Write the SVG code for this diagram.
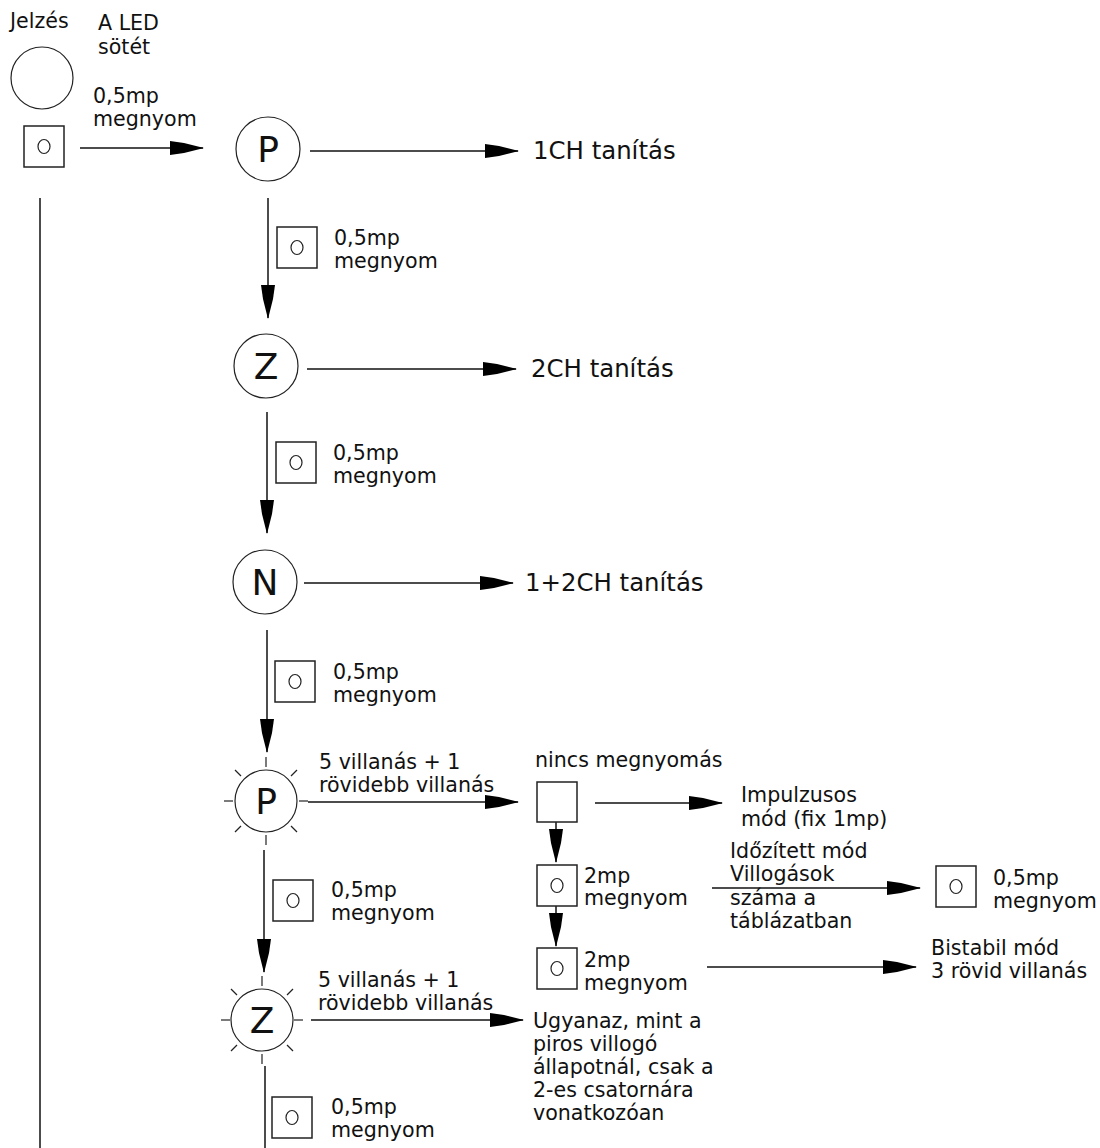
<svg xmlns="http://www.w3.org/2000/svg" width="1100" height="1148" viewBox="0 0 1100 1148">
<style>
text{font-family:"DejaVu Sans",Verdana,sans-serif;font-size:20.6px;fill:#111}
.big{font-size:24.4px}
.node{font-size:36px;text-anchor:middle}
.c{fill:#fff;stroke:#222;stroke-width:1.2}
.b{fill:#fff;stroke:#222;stroke-width:1.5}
.l{stroke:#111;stroke-width:1.5;fill:none}
.r{stroke:#222;stroke-width:1.2}
</style>
<defs>
<marker id="ah" markerUnits="userSpaceOnUse" markerWidth="36" markerHeight="16" refX="33" refY="8" orient="auto" viewBox="0 0 36 16">
<path d="M0,1 L14,3 L34,8 L14,13 L0,15 Z" fill="#000"/>
</marker>
<g id="btn"><rect x="0" y="0" width="40" height="41" class="b"/><ellipse cx="20" cy="20.5" rx="6" ry="7" class="c"/></g>
</defs>

<g id="legend">
<text x="10" y="28">Jelzés</text>
<text x="98" y="30">A LED</text>
<text x="98" y="54">sötét</text>
<circle cx="42" cy="78" r="31" class="c"/>
<use href="#btn" x="24" y="126"/>
<text x="93" y="103">0,5mp</text>
<text x="93" y="126">megnyom</text>
</g>

<g id="connectors">
<line x1="80" y1="148" x2="203" y2="148" class="l" marker-end="url(#ah)"/>
<line x1="40" y1="198" x2="40" y2="1148" class="l"/>
<line x1="310" y1="151" x2="518" y2="151" class="l" marker-end="url(#ah)"/>
<line x1="268" y1="198" x2="268" y2="318" class="l" marker-end="url(#ah)"/>
<line x1="307" y1="369" x2="516" y2="369" class="l" marker-end="url(#ah)"/>
<line x1="267" y1="412" x2="267" y2="533" class="l" marker-end="url(#ah)"/>
<line x1="304" y1="583" x2="513" y2="583" class="l" marker-end="url(#ah)"/>
<line x1="267" y1="630" x2="267" y2="752" class="l" marker-end="url(#ah)"/>
<line x1="308" y1="802" x2="518" y2="802" class="l" marker-end="url(#ah)"/>
<line x1="595" y1="803" x2="722" y2="803" class="l" marker-end="url(#ah)"/>
<line x1="556" y1="822" x2="556" y2="862" class="l" marker-end="url(#ah)"/>
<line x1="556" y1="906" x2="556" y2="946" class="l" marker-end="url(#ah)"/>
<line x1="712" y1="888" x2="920" y2="888" class="l" marker-end="url(#ah)"/>
<line x1="707" y1="967" x2="916" y2="967" class="l" marker-end="url(#ah)"/>
<line x1="264" y1="850" x2="264" y2="972" class="l" marker-end="url(#ah)"/>
<line x1="311" y1="1020" x2="523" y2="1020" class="l" marker-end="url(#ah)"/>
<line x1="265" y1="1066" x2="265" y2="1148" class="l"/>
</g>

<g id="nodeP">
<circle cx="268" cy="149" r="32" class="c"/>
<text x="268" y="162" class="node">P</text>
</g>
<g id="label1CH"><text x="533" y="159" class="big">1CH tanítás</text></g>
<g id="btnP"><use href="#btn" x="277" y="227"/><text x="334" y="245">0,5mp</text><text x="334" y="268">megnyom</text></g>

<g id="nodeZ">
<circle cx="266" cy="366" r="32" class="c"/>
<text x="266" y="379" class="node">Z</text>
</g>
<g id="label2CH"><text x="531" y="377" class="big">2CH tanítás</text></g>
<g id="btnZ"><use href="#btn" x="276" y="442"/><text x="333" y="460">0,5mp</text><text x="333" y="483">megnyom</text></g>

<g id="nodeN">
<circle cx="265" cy="582" r="32" class="c"/>
<text x="265" y="595" class="node">N</text>
</g>
<g id="label12CH"><text x="525" y="591" class="big">1+2CH tanítás</text></g>
<g id="btnN"><use href="#btn" x="275" y="661"/><text x="333" y="679">0,5mp</text><text x="333" y="702">megnyom</text></g>

<g id="nodePblink">
<circle cx="266" cy="801" r="31" class="c"/>
<g class="r">
<line x1="266" y1="757" x2="266" y2="767"/>
<line x1="266" y1="835" x2="266" y2="845"/>
<line x1="224" y1="801" x2="233" y2="801"/>
<line x1="299" y1="801" x2="308" y2="801"/>
<line x1="235" y1="770" x2="241" y2="776"/>
<line x1="297" y1="770" x2="291" y2="776"/>
<line x1="235" y1="832" x2="241" y2="826"/>
<line x1="297" y1="832" x2="291" y2="826"/>
</g>
<text x="266" y="814" class="node">P</text>
</g>
<g id="labelPblink"><text x="319" y="769">5 villanás + 1</text><text x="319" y="792">rövidebb villanás</text></g>

<g id="noPress">
<text x="535" y="767">nincs megnyomás</text>
<rect x="537" y="782" width="40" height="40" class="b"/>
</g>
<g id="impulse"><text x="741" y="802">Impulzusos</text><text x="741" y="826">mód (fix 1mp)</text></g>
<g id="press2a"><use href="#btn" x="537" y="865"/><text x="584" y="883">2mp</text><text x="584" y="905">megnyom</text></g>
<g id="timed"><text x="730" y="858">Időzített mód</text><text x="730" y="881">Villogások</text><text x="730" y="905">száma a</text><text x="730" y="928">táblázatban</text></g>
<g id="pressTimed"><use href="#btn" x="936" y="866"/><text x="993" y="885">0,5mp</text><text x="993" y="908">megnyom</text></g>
<g id="press2b"><use href="#btn" x="537" y="948"/><text x="584" y="967">2mp</text><text x="584" y="990">megnyom</text></g>
<g id="bistable"><text x="931" y="955">Bistabil mód</text><text x="931" y="978">3 rövid villanás</text></g>

<g id="btnPblink"><use href="#btn" x="273" y="880"/><text x="331" y="897">0,5mp</text><text x="331" y="920">megnyom</text></g>

<g id="nodeZblink">
<circle cx="262" cy="1020" r="31" class="c"/>
<g class="r">
<line x1="262" y1="976" x2="262" y2="986"/>
<line x1="262" y1="1054" x2="262" y2="1064"/>
<line x1="221" y1="1020" x2="230" y2="1020"/>
<line x1="294" y1="1020" x2="303" y2="1020"/>
<line x1="231" y1="989" x2="237" y2="995"/>
<line x1="293" y1="989" x2="287" y2="995"/>
<line x1="231" y1="1051" x2="237" y2="1045"/>
<line x1="293" y1="1051" x2="287" y2="1045"/>
</g>
<text x="262" y="1033" class="node">Z</text>
</g>
<g id="labelZblink"><text x="318" y="987">5 villanás + 1</text><text x="318" y="1010">rövidebb villanás</text></g>
<g id="same"><text x="533" y="1028">Ugyanaz, mint a</text><text x="533" y="1051">piros villogó</text><text x="533" y="1074">állapotnál, csak a</text><text x="533" y="1097">2-es csatornára</text><text x="533" y="1120">vonatkozóan</text></g>
<g id="btnZblink"><use href="#btn" x="272" y="1097"/><text x="331" y="1114">0,5mp</text><text x="331" y="1137">megnyom</text></g>
</svg>
